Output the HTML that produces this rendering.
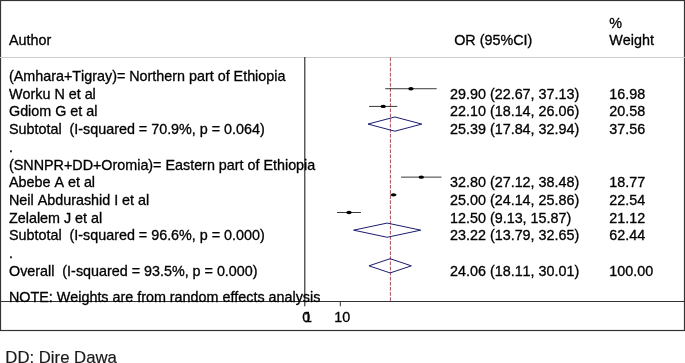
<!DOCTYPE html>
<html lang="en"><head><meta charset="utf-8"><title>Forest plot</title>
<style>
html,body{margin:0;padding:0;background:#fff;}
body{width:685px;height:363px;overflow:hidden;position:relative;}
svg{position:absolute;left:0;top:0;display:block;}
svg text{font-family:"Liberation Sans",Arial,Helvetica,sans-serif;font-size:14.0px;fill:#000;stroke:#000;stroke-width:0.3px;white-space:pre;font-kerning:none;}
svg text.cap{font-size:17px;fill:#1a1a1a;stroke:#1a1a1a;stroke-width:0.2px;}
</style></head><body>
<svg width="685" height="363" viewBox="0 0 685 363">

<rect x="0.5" y="0.5" width="684" height="330" fill="#fff" stroke="#333" stroke-width="1.2"/>
<line x1="0" y1="57.5" x2="685" y2="57.5" stroke="#ccc" stroke-width="1"/>
<line x1="0" y1="301.5" x2="685" y2="301.5" stroke="#333" stroke-width="1"/>
<line x1="304.8" y1="57" x2="304.8" y2="306.3" stroke="#222" stroke-width="1.1"/>
<line x1="340.3" y1="301.4" x2="340.3" y2="306.3" stroke="#333" stroke-width="1"/>
<line x1="390.4" y1="57.5" x2="390.4" y2="301.4" stroke="#a8485a" stroke-width="1" stroke-dasharray="3.7 1.4"/>
<text transform="translate(9.0,45.3) scale(1.025,1)" xml:space="preserve">Author</text>
<text transform="translate(454.2,45.3) scale(1.025,1)" xml:space="preserve">OR (95%CI)</text>
<text transform="translate(609.3,27.7) scale(1.025,1)" xml:space="preserve">%</text>
<text transform="translate(609.3,45.3) scale(1.025,1)" xml:space="preserve">Weight</text>
<text transform="translate(9.0,80.96) scale(1.025,1)" xml:space="preserve">(Amhara+Tigray)= Northern part of Ethiopia</text>
<text transform="translate(9.0,98.69) scale(1.025,1)" xml:space="preserve">Worku N et al</text>
<text transform="translate(450.1,98.69) scale(1.025,1)" xml:space="preserve">29.90 (22.67, 37.13)</text>
<text transform="translate(609.3,98.69) scale(1.025,1)" xml:space="preserve">16.98</text>
<line x1="385.21" y1="88.73" x2="436.68" y2="88.73" stroke="#222" stroke-width="0.9"/>
<ellipse cx="410.94" cy="88.73" rx="2.7" ry="1.65" fill="#000"/>
<text transform="translate(9.0,116.41) scale(1.025,1)" xml:space="preserve">Gdiom G et al</text>
<text transform="translate(450.1,116.41) scale(1.025,1)" xml:space="preserve">22.10 (18.14, 26.06)</text>
<text transform="translate(609.3,116.41) scale(1.025,1)" xml:space="preserve">20.58</text>
<line x1="369.08" y1="106.41" x2="397.27" y2="106.41" stroke="#222" stroke-width="0.9"/>
<ellipse cx="383.18" cy="106.41" rx="2.7" ry="1.65" fill="#000"/>
<text transform="translate(9.0,134.13) scale(1.025,1)" xml:space="preserve">Subtotal  (I-squared = 70.9%, p = 0.064)</text>
<text transform="translate(450.1,134.13) scale(1.025,1)" xml:space="preserve">25.39 (17.84, 32.94)</text>
<text transform="translate(609.3,134.13) scale(1.025,1)" xml:space="preserve">37.56</text>
<polygon points="368.01,124.09 394.89,116.99 421.77,124.09 394.89,131.19" fill="none" stroke="#1c1c70" stroke-width="1"/>
<text transform="translate(9.0,151.86) scale(1.025,1)" xml:space="preserve">.</text>
<text transform="translate(9.0,169.58) scale(1.025,1)" xml:space="preserve">(SNNPR+DD+Oromia)= Eastern part of Ethiopia</text>
<text transform="translate(9.0,187.31) scale(1.025,1)" xml:space="preserve">Abebe A et al</text>
<text transform="translate(450.1,187.31) scale(1.025,1)" xml:space="preserve">32.80 (27.12, 38.48)</text>
<text transform="translate(609.3,187.31) scale(1.025,1)" xml:space="preserve">18.77</text>
<line x1="401.05" y1="177.13" x2="441.49" y2="177.13" stroke="#222" stroke-width="0.9"/>
<ellipse cx="421.27" cy="177.13" rx="2.7" ry="1.65" fill="#000"/>
<text transform="translate(9.0,205.04) scale(1.025,1)" xml:space="preserve">Neil Abdurashid I et al</text>
<text transform="translate(450.1,205.04) scale(1.025,1)" xml:space="preserve">25.00 (24.14, 25.86)</text>
<text transform="translate(609.3,205.04) scale(1.025,1)" xml:space="preserve">22.54</text>
<line x1="390.44" y1="194.81" x2="396.56" y2="194.81" stroke="#222" stroke-width="0.9"/>
<ellipse cx="393.5" cy="194.81" rx="2.7" ry="1.65" fill="#000"/>
<text transform="translate(9.0,222.76) scale(1.025,1)" xml:space="preserve">Zelalem J et al</text>
<text transform="translate(450.1,222.76) scale(1.025,1)" xml:space="preserve">12.50 (9.13, 15.87)</text>
<text transform="translate(609.3,222.76) scale(1.025,1)" xml:space="preserve">21.12</text>
<line x1="337.0" y1="212.49" x2="361.0" y2="212.49" stroke="#222" stroke-width="0.9"/>
<ellipse cx="349.0" cy="212.49" rx="2.7" ry="1.65" fill="#000"/>
<text transform="translate(9.0,240.49) scale(1.025,1)" xml:space="preserve">Subtotal  (I-squared = 96.6%, p = 0.000)</text>
<text transform="translate(450.1,240.49) scale(1.025,1)" xml:space="preserve">23.22 (13.79, 32.65)</text>
<text transform="translate(609.3,240.49) scale(1.025,1)" xml:space="preserve">62.44</text>
<polygon points="353.59,230.17 387.16,223.07 420.73,230.17 387.16,237.27" fill="none" stroke="#1c1c70" stroke-width="1"/>
<text transform="translate(9.0,258.21) scale(1.025,1)" xml:space="preserve">.</text>
<text transform="translate(9.0,275.94) scale(1.025,1)" xml:space="preserve">Overall  (I-squared = 93.5%, p = 0.000)</text>
<text transform="translate(450.1,275.94) scale(1.025,1)" xml:space="preserve">24.06 (18.11, 30.01)</text>
<text transform="translate(609.3,275.94) scale(1.025,1)" xml:space="preserve">100.00</text>
<polygon points="368.97,265.83 390.15,258.73 411.34,265.83 390.15,272.93" fill="none" stroke="#1c1c70" stroke-width="1"/>
<text transform="translate(9.0,301.7) scale(1.025,1)" xml:space="preserve">NOTE: Weights are from random effects analysis</text>
<text transform="translate(306.3,321.5) scale(1.025,1)" text-anchor="middle" xml:space="preserve">0</text>
<text transform="translate(308.0,321.5) scale(1.025,1)" text-anchor="middle" xml:space="preserve">1</text>
<text transform="translate(342.3,321.5) scale(1.025,1)" text-anchor="middle" xml:space="preserve">10</text>
<text class="cap" transform="translate(5.3,362.9) scale(0.985,1)">DD: Dire Dawa</text>
</svg>
</body></html>
